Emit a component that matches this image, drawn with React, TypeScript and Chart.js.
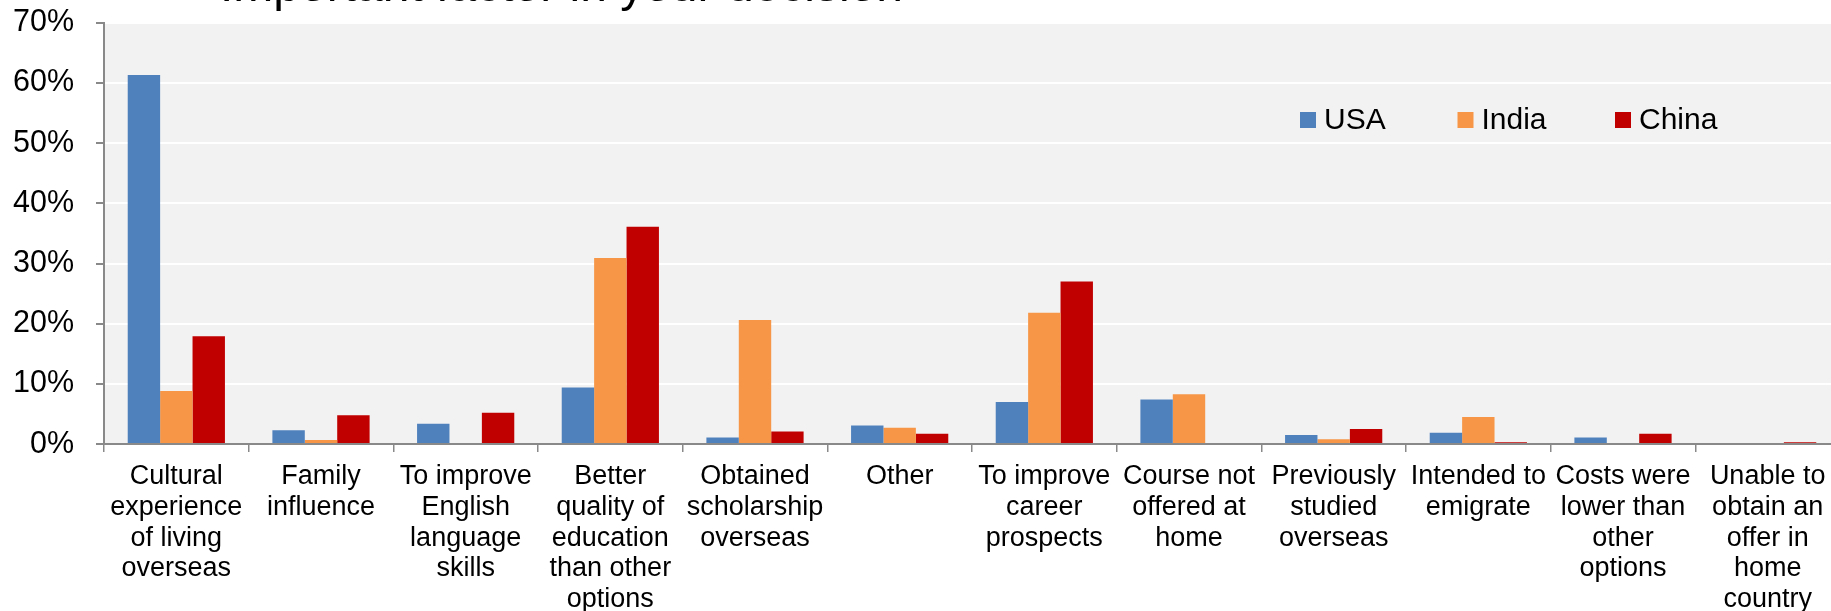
import { useEffect, useRef } from "react";
import { Chart, registerables } from "chart.js";

Chart.register(...registerables);

const TITLE = "Important factor in your decision";

const categories: string[][] = [
  ["Cultural", "experience", "of living", "overseas"],
  ["Family", "influence"],
  ["To improve", "English", "language", "skills"],
  ["Better", "quality of", "education", "than other", "options"],
  ["Obtained", "scholarship", "overseas"],
  ["Other"],
  ["To improve", "career", "prospects"],
  ["Course not", "offered at", "home"],
  ["Previously", "studied", "overseas"],
  ["Intended to", "emigrate"],
  ["Costs were", "lower than", "other", "options"],
  ["Unable to", "obtain an", "offer in", "home", "country"],
];

const seriesNames = ["USA", "India", "China"];
const seriesColors = ["#4F81BD", "#F79646", "#C00000"];

const usaValues = [61.3, 2.3, 3.4, 9.4, 1.1, 3.1, 7.0, 7.4, 1.5, 1.9, 1.1, 0];
const indiaValues = [8.8, 0.7, 0, 30.9, 20.6, 2.7, 21.8, 8.3, 0.8, 4.5, 0.2, 0.2];
const chinaValues = [17.9, 4.8, 5.2, 36.1, 2.1, 1.7, 27.0, 0, 2.5, 0.3, 1.7, 0.3];

const yMin = 0;
const yMax = 70;
const yStep = 10;

const FONT = "'Liberation Sans', Arial, Helvetica, sans-serif";

export default function App() {
  const ref = useRef<HTMLCanvasElement>(null);

  useEffect(() => {
    if (!ref.current) return;

    const bgPlugin = {
      id: "plotBg",
      beforeDraw(chart: any) {
        const { ctx, chartArea: a } = chart;
        ctx.save();
        ctx.fillStyle = "#F2F2F2";
        ctx.fillRect(a.left, a.top, a.right - a.left, a.bottom - a.top);
        ctx.restore();
      },
    };

    const overlayPlugin = {
      id: "overlay",
      afterDraw(chart: any) {
        const { ctx } = chart;
        ctx.save();
        // title (mostly cropped above the picture, as in the reference)
        ctx.fillStyle = "#000000";
        ctx.font = `48px ${FONT}`;
        ctx.textAlign = "left";
        ctx.textBaseline = "alphabetic";
        ctx.fillText(TITLE, 220, 0.5);
        // legend
        ctx.font = `30px ${FONT}`;
        ctx.textBaseline = "middle";
        chart.data.datasets.forEach((ds: any, i: number) => {
          const x = 1300 + i * 157.5;
          const y = 120;
          ctx.fillStyle = ds.backgroundColor;
          ctx.fillRect(x, y - 8, 16, 16);
          ctx.fillStyle = "#000000";
          ctx.fillText(ds.label, x + 24, y + 1);
        });
        ctx.restore();
      },
    };

    const values = [usaValues, indiaValues, chinaValues];

    const chart = new Chart(ref.current, {
      type: "bar",
      data: {
        labels: categories,
        datasets: seriesNames.map((name, i) => ({
          label: name,
          data: values[i],
          backgroundColor: seriesColors[i],
          borderWidth: 0,
          categoryPercentage: 0.672,
          barPercentage: 1.0,
        })),
      },
      options: {
        responsive: false,
        animation: false,
        maintainAspectRatio: false,
        layout: { padding: { left: 13, top: 0, right: 5, bottom: 0 } },
        plugins: {
          legend: { display: false },
          title: { display: false },
          tooltip: { enabled: false },
        },
        scales: {
          x: {
            grid: {
              drawOnChartArea: false,
              drawTicks: true,
              tickLength: 8,
              tickColor: "#898989",
              lineWidth: 1.5,
            },
            border: { color: "#898989", width: 2 },
            ticks: {
              color: "#000000",
              font: { family: FONT, size: 27, lineHeight: 1.14 },
              maxRotation: 0,
              minRotation: 0,
              autoSkip: false,
              padding: 9,
            },
          },
          y: {
            min: yMin,
            max: yMax,
            afterFit: (scale: any) => {
              scale.width = 91;
            },
            grid: {
              color: "#FFFFFF",
              lineWidth: 2,
              drawTicks: true,
              tickLength: 8,
              tickColor: "#898989",
            },
            border: { color: "#898989", width: 2 },
            ticks: {
              stepSize: yStep,
              color: "#000000",
              font: { family: FONT, size: 30.5, lineHeight: 0.046 },
              padding: 22,
              callback: (v: any) => `${v}%`,
            },
          },
        },
      },
      plugins: [bgPlugin, overlayPlugin],
    });

    return () => chart.destroy();
  }, []);

  return (
    <div
      style={{
        position: "fixed",
        left: 0,
        top: 0,
        width: "100vw",
        height: "100vh",
        overflow: "hidden",
        background: "#FFFFFF",
      }}
    >
      <canvas
        ref={ref}
        width={1845}
        height={624}
        style={{ display: "block", width: "1845px", height: "624px" }}
      />
    </div>
  );
}
